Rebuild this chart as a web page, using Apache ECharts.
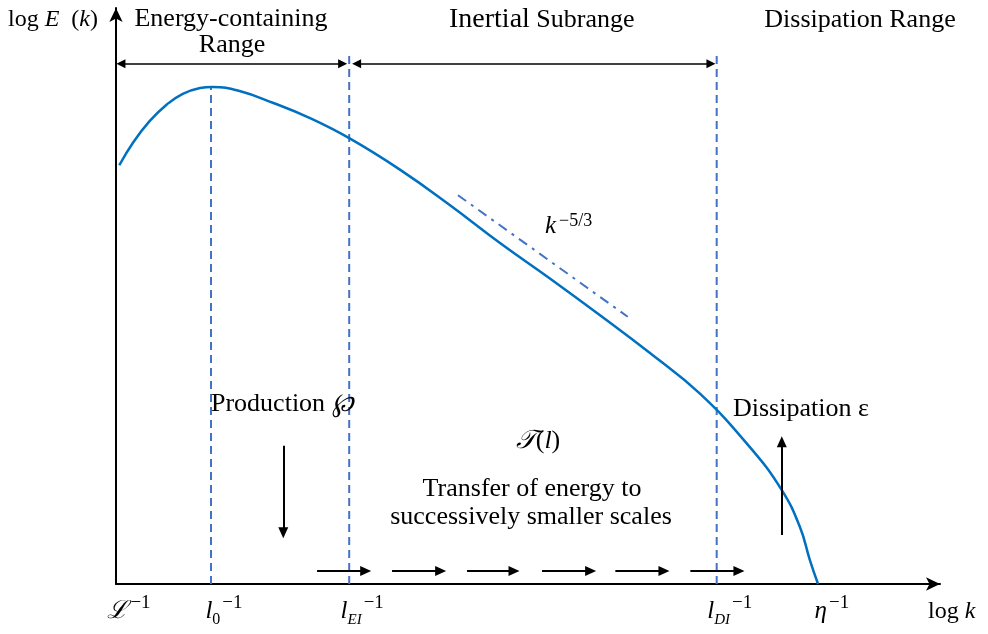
<!DOCTYPE html>
<html><head><meta charset="utf-8">
<script src="https://cdn.jsdelivr.net/npm/echarts@6/dist/echarts.min.js"></script>
<style>html,body{margin:0;padding:0;background:#fff}#c{width:988px;height:634px}</style>
</head><body><div id="c"></div>
<script>
// ---- data (schematic units: log k on x, log E(k) on y) ----
const curveX = [0.04, 0.21, 0.41, 0.62, 0.81, 1.02, 1.17, 1.50, 1.91, 2.32, 2.83, 3.45, 4.05, 4.66, 5.27, 5.87, 6.48, 7.09, 7.69, 8.08, 8.30, 8.42, 8.52];
const curveY = [7.27, 7.67, 8.04, 8.33, 8.51, 8.61, 8.63, 8.56, 8.35, 8.11, 7.74, 7.19, 6.58, 5.92, 5.30, 4.67, 4.01, 3.30, 2.38, 1.63, 0.99, 0.42, 0.00];
const slopeX = [4.15, 6.21];
const slopeY = [6.75, 4.64];
const scaleX = [0, 1.153, 2.83, 7.29, 8.53];
const tickBase = ['ℒ', 'l', 'l', 'l', 'η'];
const tickSub = ['', '0', 'EI', 'DI', ''];
const tickSup = ['−1', '−1', '−1', '−1', '−1'];
const dashedX = [1.153, 2.83, 7.29];
const dashedTop = [8.63, 9.2, 9.2];
const rangeY = 9.03;
const rangeStart = [0.06, 2.92, 7.29];
const rangeEnd = [2.75, 7.22, 10.5];
const rangeStartHead = [true, true, false];
const transferStart = [2.44, 3.35, 4.26, 5.17, 6.06, 6.97];
const transferEnd = [3.03, 3.94, 4.83, 5.76, 6.65, 7.56];
const transferY = 0.226;
const productionArrow = [2.03, 2.40, 0.89];   // x, from y, to y
const dissipationArrow = [8.08, 0.85, 2.47];

const SERIF = 'Liberation Serif';
const chart = echarts.init(document.getElementById('c'), null, {renderer: 'canvas'});

const axisLine = {show: true, symbol: ['none', 'arrow'], symbolSize: [10, 14], lineStyle: {color: '#000', width: 2}};

const dashedSeries = dashedX.map((x, i) => ({
  type: 'line', data: [[x, 0], [x, dashedTop[i]]], showSymbol: false, silent: true,
  lineStyle: {color: '#4472C4', width: 2, type: [8, 5]}, z: 2
}));

const arrowData = [];
rangeStart.forEach((s, i) => {
  arrowData.push([{coord: [s, rangeY], symbol: rangeStartHead[i] ? 'triangle' : 'none', symbolSize: [9, 9], lineStyle: {width: 1.5}},
                  {coord: [rangeEnd[i], rangeY], symbol: 'triangle', symbolSize: [9, 9]}]);
});
transferStart.forEach((s, i) => {
  arrowData.push([{coord: [s, transferY], symbol: 'none', lineStyle: {width: 2}},
                  {coord: [transferEnd[i], transferY], symbol: 'triangle', symbolSize: [10, 11]}]);
});
[productionArrow, dissipationArrow].forEach(a => {
  arrowData.push([{coord: [a[0], a[1]], symbol: 'none', lineStyle: {width: 2}},
                  {coord: [a[0], a[2]], symbol: 'triangle', symbolSize: [10, 11]}]);
});

function txt(text, x, y, align, rich) {
  return {
    type: 'text', x: x, y: y, silent: true, z: 10,
    style: {
      text: text, fill: '#000', font: '26px "' + SERIF + '"',
      align: align, verticalAlign: 'middle', textAlign: align, textVerticalAlign: 'middle',
      rich: rich || {}
    }
  };
}
const serif = (size, italic) => ({fontFamily: SERIF, fontSize: size, fontStyle: italic ? 'italic' : 'normal', color: '#000'});

chart.setOption({
  animation: false,
  backgroundColor: '#fff',
  grid: {left: 116, right: 48, top: 8, bottom: 50, containLabel: false},
  xAxis: {
    type: 'value', min: 0, max: 10,
    axisLine: axisLine, axisTick: {show: false}, splitLine: {show: false},
    axisLabel: {
      show: true, customValues: scaleX, margin: 10, padding: [0, 0, 0, 26],
      formatter: function (v) {
        let i = scaleX.findIndex(s => Math.abs(s - v) < 1e-6);
        if (i < 0) return '';
        let out = '{b|' + tickBase[i] + '}';
        if (tickSub[i]) out += (/^\d+$/.test(tickSub[i]) ? '{subn|' : '{sub|') + tickSub[i] + '}';
        out += '{sup|' + tickSup[i] + '}';
        return out;
      },
      rich: {
        b: Object.assign(serif(25, true), {lineHeight: 34}),
        sub: Object.assign(serif(15, true), {lineHeight: 18, verticalAlign: 'bottom'}),
        subn: Object.assign(serif(16, false), {lineHeight: 18, verticalAlign: 'bottom'}),
        sup: Object.assign(serif(19, false), {lineHeight: 14, verticalAlign: 'top', padding: [0, 0, 0, 2]})
      }
    }
  },
  yAxis: {
    type: 'value', min: 0, max: 10,
    axisLine: axisLine, axisTick: {show: false}, axisLabel: {show: false}, splitLine: {show: false}
  },
  series: [
    {
      type: 'line', data: curveX.map((x, i) => [x, curveY[i]]), smooth: 0.45, showSymbol: false, silent: true,
      lineStyle: {color: '#0070C0', width: 2.5}, z: 3
    },
    {
      type: 'line', data: slopeX.map((x, i) => [x, slopeY[i]]), showSymbol: false, silent: true,
      lineStyle: {color: '#4472C4', width: 2, type: [10, 6, 3, 6]}, z: 3
    },
    ...dashedSeries,
    {
      type: 'line', data: [], clip: false, silent: true,
      markLine: {
        silent: true, animation: false, symbol: ['none', 'triangle'], symbolSize: [9, 10],
        label: {show: false}, emphasis: {disabled: true},
        lineStyle: {color: '#000', width: 1.5, type: 'solid'},
        data: arrowData
      }
    }
  ],
  graphic: [
    txt('{r|log }{i|E}{r|  (}{i|k}{r|)}', 8, 20, 'left', {r: serif(24, false), i: serif(24, true)}),
    txt('Energy-containing', 231, 19, 'center'),
    txt('Range', 232, 45, 'center'),
    txt('{s|Inertial}{t| Subrange}', 449, 20, 'left', {s: {fontFamily: 'Liberation Sans Narrow', fontSize: 28, color: '#000'}, t: serif(26, false)}),
    txt('Dissipation Range', 860, 20, 'center'),
    txt('{k|k}{s|−5/3}', 545, 226, 'left', {k: Object.assign(serif(25, true), {lineHeight: 28}), s: Object.assign(serif(18, false), {lineHeight: 16, verticalAlign: 'top', padding: [0, 0, 0, 3]})}),
    txt('{t|Production }{m|℘}', 211, 404, 'left', {t: serif(26, false), m: serif(26, true)}),
    txt('{t|Dissipation }{m|ε}', 733, 409, 'left', {t: serif(26, false), m: serif(26, false)}),
    txt('{T|𝒯}{p|(}{l|l}{p|)}', 538, 441, 'center', {T: serif(26, true), p: serif(26, false), l: serif(26, true)}),
    txt('Transfer of energy to', 532, 489, 'center'),
    txt('successively smaller scales', 531, 517, 'center'),
    txt('{r|log }{i|k}', 928, 612, 'left', {r: serif(24, false), i: serif(24, true)})
  ]
});
</script>
</body></html>
